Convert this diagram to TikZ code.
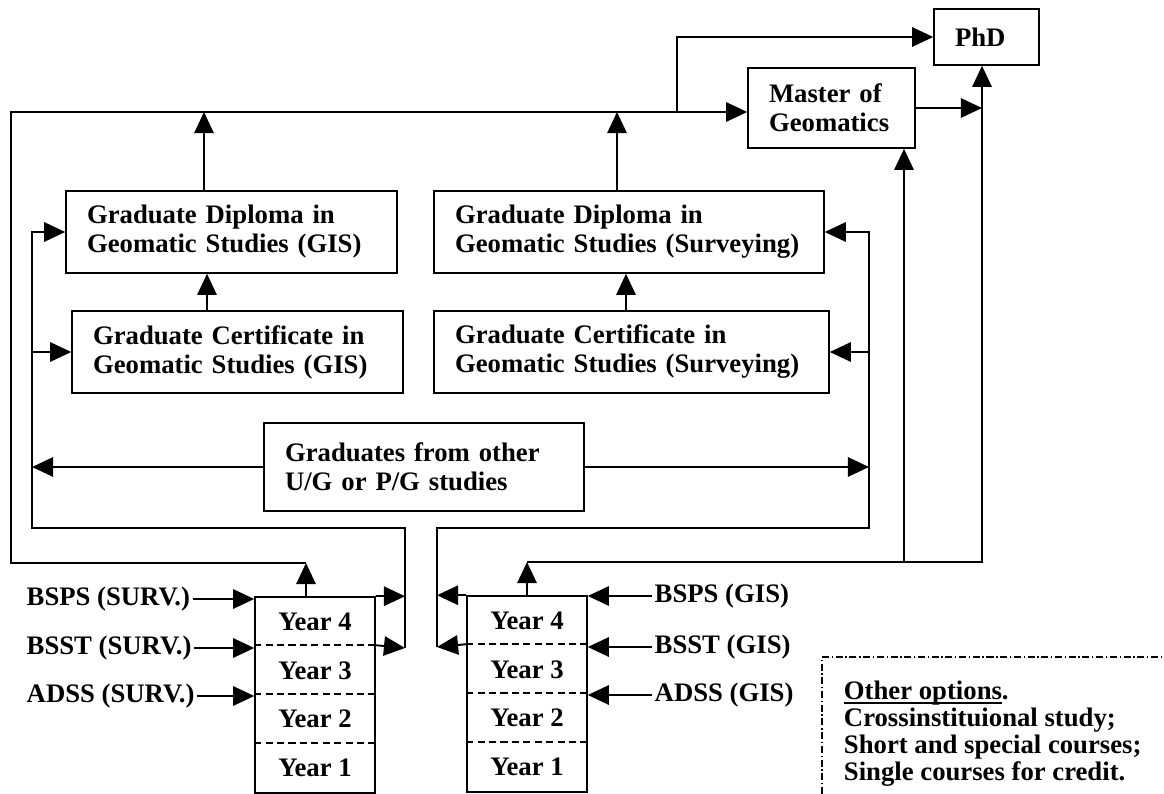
\documentclass[tikz,border=0pt]{standalone}
\usepackage{fontspec}
\setmainfont{Liberation Serif}
\usepackage{tikz}
\usetikzlibrary{
	arrows.meta,   % Triangle tips
	calc           % shifted points
}
\newcommand{\optline}[1]{\setbox0\hbox{#1}\rlap{\rule[-2.5pt]{\wd0}{0.9pt}}#1}
\tikzstyle{progbox}=[draw,
line width=0.9pt,
inner xsep=0.42cm,
align=left,
minimum height=1.64cm,
font=\fontsize{15.2}{16.5}\selectfont\bfseries]
\tikzstyle{yearframe}=[draw,
line width=0.9pt,
minimum width=2.4cm,
minimum height=3.92cm]
\tikzstyle{yeartext}=[inner sep=0pt,font=\fontsize{15.2}{16.5}\selectfont\bfseries]
\tikzstyle{entry}=[inner sep=1pt,font=\fontsize{15.2}{16.5}\selectfont\bfseries]
\tikzstyle{yeardash}=[line width=0.9pt,dash pattern=on 4pt off 2.5pt]
\tikzset{
	every picture/.style={
		>={Triangle[length=12pt,width=11pt]},
		line width=1.1pt
}}

\begin{document}
\begin{tikzpicture}[x=0.02cm,y=-0.02cm]
	\useasboundingbox (0,0) rectangle (1164,794);
	\node (phd) at (986.5,37) [progbox,text width=1.26cm,minimum height=1.12cm] {PhD};
	\node (master) at (831.5,108) [progbox,text width=2.50cm,minimum height=1.60cm] {Master of\\Geomatics};
	\node (gdgis) at (231.5,232) [progbox,text width=5.78cm] {Graduate Diploma in\\Geomatic Studies (GIS)};
	\node (gcgis) at (237.5,352) [progbox,text width=5.78cm] {Graduate Certificate in\\Geomatic Studies (GIS)};
	\node (gdsurv) at (629,232) [progbox,text width=6.96cm] {Graduate Diploma in\\Geomatic Studies (Surveying)};
	\node (gcsurv) at (631.5,352) [progbox,text width=7.06cm] {Graduate Certificate in\\Geomatic Studies (Surveying)};
	\node (grads) at (424,467) [progbox,text width=5.56cm,minimum height=1.76cm] {Graduates from other\\U/G or P/G studies};
	
	\node (ysurv) at (315,695) [yearframe] {};
	\node (ysurv4) at (315,622) [yeartext] {Year 4};
	\node (ysurv3) at (315,671) [yeartext] {Year 3};
	\node (ysurv2) at (315,719) [yeartext] {Year 2};
	\node (ysurv1) at (315,768) [yeartext] {Year 1};
	\draw[yeardash] ([yshift=-0.98cm]ysurv.north west) -- ([yshift=-0.98cm]ysurv.north east);
	\draw[yeardash] ([yshift=-1.96cm]ysurv.north west) -- ([yshift=-1.96cm]ysurv.north east);
	\draw[yeardash] ([yshift=-2.94cm]ysurv.north west) -- ([yshift=-2.94cm]ysurv.north east);
	
	\node (ygis) at (527,694) [yearframe] {};
	\node (ygis4) at (527,621) [yeartext] {Year 4};
	\node (ygis3) at (527,670) [yeartext] {Year 3};
	\node (ygis2) at (527,718) [yeartext] {Year 2};
	\node (ygis1) at (527,767) [yeartext] {Year 1};
	\draw[yeardash] ([yshift=-0.98cm]ygis.north west) -- ([yshift=-0.98cm]ygis.north east);
	\draw[yeardash] ([yshift=-1.96cm]ygis.north west) -- ([yshift=-1.96cm]ygis.north east);
	\draw[yeardash] ([yshift=-2.94cm]ygis.north west) -- ([yshift=-2.94cm]ygis.north east);
	
	\node (bspss) at (24,599) [entry,anchor=west] {BSPS (SURV.)};
	\node (bssts) at (24,648) [entry,anchor=west] {BSST (SURV.)};
	\node (adsss) at (24,696) [entry,anchor=west] {ADSS (SURV.)};
	\node (bspsg) at (652,596) [entry,anchor=west] {BSPS (GIS)};
	\node (bsstg) at (652,647) [entry,anchor=west] {BSST (GIS)};
	\node (adssg) at (652,695) [entry,anchor=west] {ADSS (GIS)};
	
	\coordinate (tl) at (11,112);
	\coordinate (j1) at (306,563);
	\coordinate (gdgisup) at (204,112);
	\coordinate (gdsurvup) at (617,112);
	\coordinate (phdb) at (677,112);
	\coordinate (ilb) at (405,648);
	\coordinate (ilt) at (405,528);
	\coordinate (ilx) at (32,528);
	\coordinate (irb) at (437,647);
	\coordinate (irt) at (437,528);
	\coordinate (irx) at (869,528);
	\coordinate (gj) at (527,562);
	\coordinate (rb1) at (904,562);
	\coordinate (rb2) at (982,562);
	
	\draw[->] (bspss.east) -- (bspss.east -| ysurv.west);
	\draw[->] (bssts.east) -- (bssts.east -| ysurv.west);
	\draw[->] (adsss.east) -- (adsss.east -| ysurv.west);
	\draw[->] (bspsg.west) -- (bspsg.west -| ygis.east);
	\draw[->] (bsstg.west) -- (bsstg.west -| ygis.east);
	\draw[->] (adssg.west) -- (adssg.west -| ygis.east);
	
	\draw[->] (j1 |- ysurv.north) -- (j1);
	\draw[->] (j1) -| (tl) -- (tl -| master.west);
	\draw[->] (gdgisup |- gdgis.north) -- (gdgisup);
	\draw[->] (gdsurvup |- gdsurv.north) -- (gdsurvup);
	\draw[->] (phdb) |- (phd.west);
	\draw[->] ($(gcgis.north)+(-30.5,0)$) -- ($(gdgis.south)+(-24.5,0)$);
	\draw[->] ($(gcsurv.north)+(-5.5,0)$) -- ($(gdsurv.south)+(-3,0)$);
	
	\draw[->] (ysurv.north east) -- (ysurv.north east -| ilb);
	\draw[->] ([yshift=-0.98cm]ysurv.north east) -- (ilb);
	\draw[->] (ilb) -- (ilt) -- (ilx) |- (gdgis.west);
	\draw[->] (ilx |- gcgis.west) -- (gcgis.west);
	\draw[->] (grads.west) -- (grads.west -| ilx);
	
	\draw[->] (ygis.north west) -- (ygis.north west -| irb);
	\draw[->] ([yshift=-0.98cm]ygis.north west) -- (irb);
	\draw[->] (irb) -- (irt) -- (irx) |- (gdsurv.east);
	\draw[->] (irx |- gcsurv.east) -- (gcsurv.east);
	\draw[->] (grads.east) -- (grads.east -| irx);
	
	\draw[->] (ygis.north) -- (gj);
	\draw[->] (gj) -- (rb2) -- (rb2 |- phd.south);
	\draw[->] (rb1) -- (rb1 |- master.south);
	\draw[->] (master.east) -- (master.east -| rb2);
	
	\draw[line width=0.6pt,dash pattern=on 4pt off 1.5pt on 0.8pt off 1.5pt] (822,794) -- (822,657) -- (1164,657);
	\node (other) at (843,680) [anchor=north west,inner sep=0pt,align=left,font=\fontsize{15.2}{15.4}\selectfont\bfseries] {\optline{Other options}.\\Crossinstituional study;\\Short and special courses;\\Single courses for credit.};
\end{tikzpicture}
\end{document}
